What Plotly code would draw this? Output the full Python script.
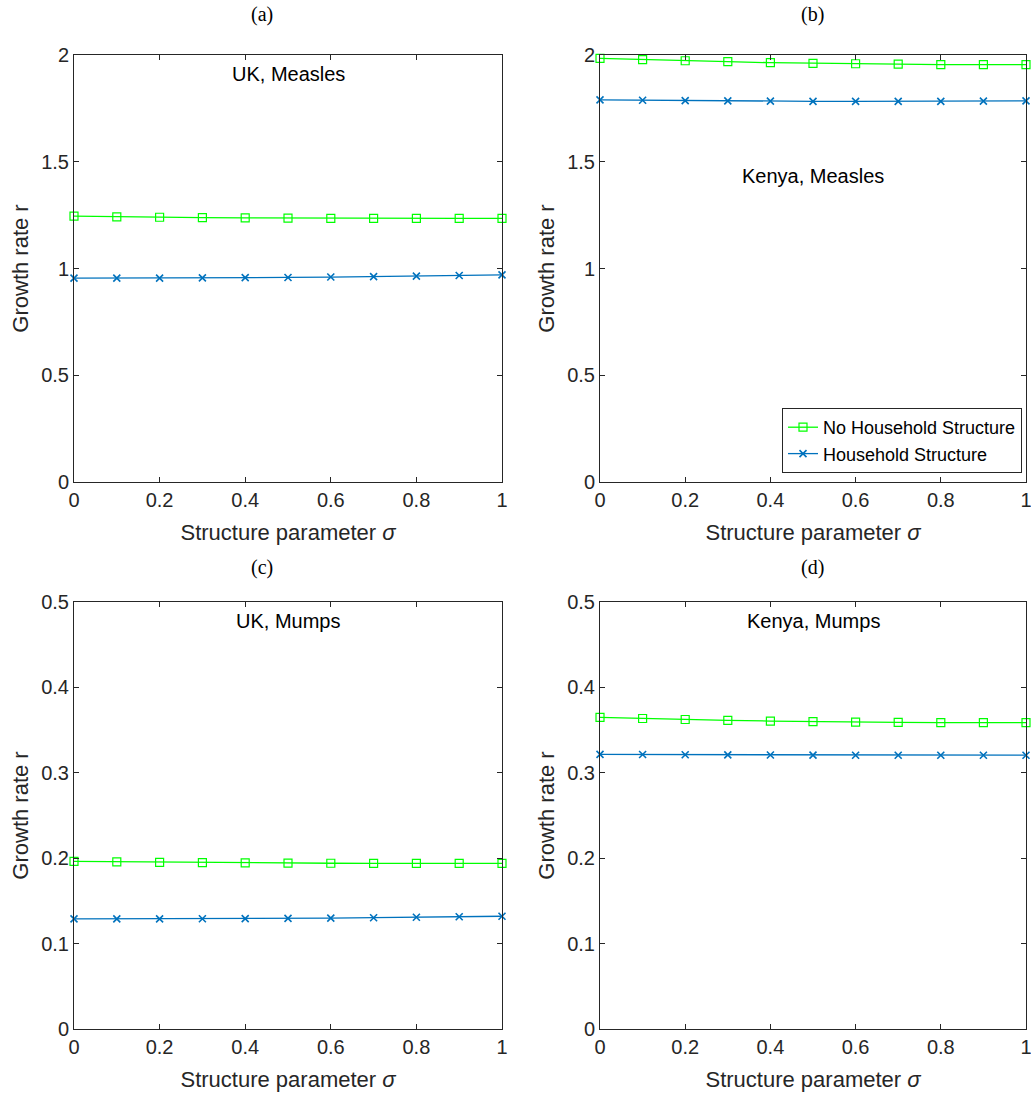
import plotly.graph_objects as go

# Structure parameter values (x axis)
sigma = [0.0, 0.1, 0.2, 0.3, 0.4, 0.5, 0.6, 0.7, 0.8, 0.9, 1.0]

# Growth rate r, without / with household structure
uk_measles_no_hh = [1.245, 1.242, 1.240, 1.238, 1.237, 1.236, 1.235, 1.235, 1.235, 1.235, 1.235]
uk_measles_hh = [0.955, 0.955, 0.955, 0.956, 0.957, 0.958, 0.960, 0.962, 0.964, 0.967, 0.970]

kenya_measles_no_hh = [1.984, 1.978, 1.973, 1.969, 1.964, 1.961, 1.959, 1.957, 1.955, 1.955, 1.955]
kenya_measles_hh = [1.790, 1.788, 1.786, 1.785, 1.784, 1.783, 1.783, 1.783, 1.783, 1.784, 1.785]

uk_mumps_no_hh = [0.1962, 0.1957, 0.1952, 0.1948, 0.1945, 0.1943, 0.1941, 0.1940, 0.1940, 0.1940, 0.1940]
uk_mumps_hh = [0.1290, 0.1290, 0.1290, 0.1291, 0.1292, 0.1295, 0.1298, 0.1303, 0.1308, 0.1314, 0.1320]

kenya_mumps_no_hh = [0.3650, 0.3636, 0.3624, 0.3614, 0.3606, 0.3599, 0.3594, 0.3590, 0.3588, 0.3587, 0.3587]
kenya_mumps_hh = [0.3215, 0.3214, 0.3212, 0.3210, 0.3208, 0.3207, 0.3206, 0.3206, 0.3206, 0.3206, 0.3206]

panel_letters = ["(a)", "(b)", "(c)", "(d)"]
panel_titles = ["UK, Measles", "Kenya, Measles", "UK, Mumps", "Kenya, Mumps"]
measles_ticks = [0, 0.5, 1, 1.5, 2]
mumps_ticks = [0, 0.1, 0.2, 0.3, 0.4, 0.5]
x_ticks = [0, 0.2, 0.4, 0.6, 0.8, 1]

W, H = 1031, 1099
GREEN = "#00FF00"
BLUE = "#0072BD"
AXIS_COLOR = "#262626"
SANS = "Liberation Sans, Arial, sans-serif"
SERIF = "Liberation Serif, DejaVu Serif, serif"

series = [
    (uk_measles_no_hh, uk_measles_hh),
    (kenya_measles_no_hh, kenya_measles_hh),
    (uk_mumps_no_hh, uk_mumps_hh),
    (kenya_mumps_no_hh, kenya_mumps_hh),
]

# Panel boxes in pixels: (left, right, top, bottom)
boxes = [
    (74, 502, 55, 482),
    (600, 1026, 55, 482),
    (74, 502, 602, 1029),
    (600, 1026, 602, 1029),
]

fig = go.Figure()
layout = {}
annotations = []

for i, ((no_hh, hh), (l, r, t, b)) in enumerate(zip(series, boxes)):
    n = i + 1
    xa = "x" if n == 1 else f"x{n}"
    ya = "y" if n == 1 else f"y{n}"
    show_legend = (i == 1)
    fig.add_trace(go.Scatter(
        x=sigma, y=no_hh, xaxis=xa, yaxis=ya, mode="lines+markers",
        name="No Household Structure", showlegend=show_legend,
        line=dict(color=GREEN, width=1.3),
        marker=dict(symbol="square-open", size=8, color=GREEN, line=dict(width=1.2)),
        cliponaxis=False,
    ))
    fig.add_trace(go.Scatter(
        x=sigma, y=hh, xaxis=xa, yaxis=ya, mode="lines+markers",
        name="Household Structure", showlegend=show_legend,
        line=dict(color=BLUE, width=1.3),
        marker=dict(symbol="x-thin-open", size=7, color=BLUE, line=dict(width=1.6, color=BLUE)),
        cliponaxis=False,
    ))

    ticks = measles_ticks if i < 2 else mumps_ticks
    common = dict(
        showline=True, linecolor=AXIS_COLOR, linewidth=1, mirror="ticks",
        ticks="inside", ticklen=5, tickcolor=AXIS_COLOR, tickwidth=1,
        showgrid=False, zeroline=False, automargin=False,
        ticklabeloverflow="allow",
        tickfont=dict(family=SANS, size=20, color=AXIS_COLOR),
    )
    xkey = "xaxis" if n == 1 else f"xaxis{n}"
    ykey = "yaxis" if n == 1 else f"yaxis{n}"
    layout[xkey] = dict(
        common, domain=[l / W, r / W], anchor=ya, range=[0, 1],
        tickvals=x_ticks, ticktext=[f"{v:g}" for v in x_ticks],
        title=dict(text="Structure parameter <i>σ</i>", standoff=14,
                   font=dict(family=SANS, size=22, color=AXIS_COLOR)),
    )
    layout[ykey] = dict(
        common, domain=[1 - b / H, 1 - t / H], anchor=xa,
        range=[ticks[0], ticks[-1]],
        tickvals=ticks, ticktext=[f"{v:g}" for v in ticks],
        title=dict(text="Growth rate r", standoff=6,
                   font=dict(family=SANS, size=22, color=AXIS_COLOR)),
    )

    # panel title inside the axes
    title_y = 176 if i == 1 else t + 19
    annotations.append(dict(
        text=panel_titles[i], xref="paper", yref="paper",
        x=(l + r) / 2 / W, y=1 - title_y / H, xanchor="center", yanchor="middle",
        showarrow=False, font=dict(family=SANS, size=20, color="#000000"),
    ))
    # panel letter above the axes
    letter_x = 262 if l < 300 else 812
    letter_y = 15 if t < 300 else 567
    annotations.append(dict(
        text=panel_letters[i], xref="paper", yref="paper",
        x=letter_x / W, y=1 - letter_y / H, xanchor="center", yanchor="middle",
        showarrow=False, font=dict(family=SERIF, size=20, color="#000000"),
    ))

fig.update_layout(
    **layout,
    width=W, height=H,
    margin=dict(l=0, r=0, t=0, b=0, pad=0, autoexpand=False),
    paper_bgcolor="white", plot_bgcolor="white",
    annotations=annotations,
    showlegend=True,
    legend=dict(
        x=1022 / W, y=1 - 473 / H, xanchor="right", yanchor="bottom",
        bgcolor="white", bordercolor=AXIS_COLOR, borderwidth=1,
        font=dict(family=SANS, size=18, color="#000000"),
        tracegroupgap=0, itemwidth=30,
    ),
)

fig.write_html("out.html")
